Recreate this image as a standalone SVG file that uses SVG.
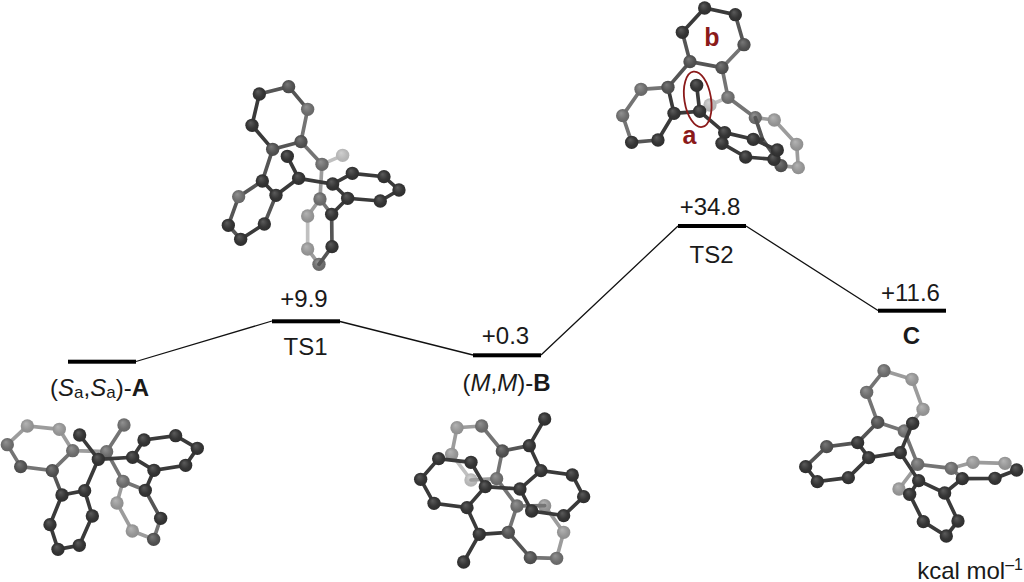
<svg xmlns="http://www.w3.org/2000/svg" width="1024" height="582" viewBox="0 0 1024 582">
<style>
text{font-family:"Liberation Sans",Arial,sans-serif;font-size:24px;fill:#1a1a1a;text-anchor:middle}
.bar{fill:#000}
.c{fill:none;stroke:#111;stroke-width:1.3}
.red{fill:#8b1a1a;font-weight:700;font-size:25px}
.mol path{fill:none;stroke-width:11;stroke-linecap:round}
.mol circle{r:20px}
path.k{stroke:#3a3a3a}path.n{stroke:#555}path.m{stroke:#747474}path.l{stroke:#9c9c9c}path.p{stroke:#c0c0c0}
circle.k{fill:url(#gk)}circle.n{fill:url(#gn)}circle.m{fill:url(#gm)}circle.l{fill:url(#gl)}circle.p{fill:url(#gp)}
</style>
<defs>
<radialGradient id="gk" cx=".5" cy=".5" r=".6" fx=".38" fy=".3"><stop offset="0" stop-color="#5c5c5c"/><stop offset=".55" stop-color="#363636"/><stop offset="1" stop-color="#2a2a2a"/></radialGradient>
<radialGradient id="gn" cx=".5" cy=".5" r=".6" fx=".38" fy=".3"><stop offset="0" stop-color="#787878"/><stop offset=".6" stop-color="#525252"/><stop offset="1" stop-color="#454545"/></radialGradient>
<radialGradient id="gm" cx=".5" cy=".5" r=".6" fx=".38" fy=".3"><stop offset="0" stop-color="#929292"/><stop offset=".6" stop-color="#6e6e6e"/><stop offset="1" stop-color="#626262"/></radialGradient>
<radialGradient id="gl" cx=".5" cy=".5" r=".6" fx=".38" fy=".3"><stop offset="0" stop-color="#b4b4b4"/><stop offset=".6" stop-color="#969696"/><stop offset="1" stop-color="#8a8a8a"/></radialGradient>
<radialGradient id="gp" cx=".5" cy=".5" r=".6" fx=".38" fy=".3"><stop offset="0" stop-color="#d0d0d0"/><stop offset=".6" stop-color="#b8b8b8"/><stop offset="1" stop-color="#aeaeae"/></radialGradient>
</defs>
<rect width="1024" height="582" fill="#fff"/>

<g id="connectors">
<path class="c" d="M136 361.5L272 321M340 321.5L473 355M541 355L678 226M746 226L878 310.5"/>
</g>

<g id="level-A"><rect class="bar" x="68" y="359.7" width="68" height="4"/><text x="99.5" y="396">(<tspan font-style="italic">S</tspan><tspan font-size="17" dy="2">a</tspan><tspan dy="-2">,</tspan><tspan font-style="italic">S</tspan><tspan font-size="17" dy="2">a</tspan><tspan dy="-2">)-</tspan><tspan font-weight="700">A</tspan></text></g>
<g id="level-TS1"><rect class="bar" x="272" y="319.3" width="68" height="4"/><text x="304" y="307">+9.9</text><text x="305.5" y="355">TS1</text></g>
<g id="level-B"><rect class="bar" x="473" y="353.3" width="68" height="4"/><text x="505.5" y="344">+0.3</text><text x="506.5" y="391">(<tspan font-style="italic">M</tspan>,<tspan font-style="italic">M</tspan>)-<tspan font-weight="700">B</tspan></text></g>
<g id="level-TS2"><rect class="bar" x="678" y="224" width="68" height="4"/><text x="710" y="215">+34.8</text><text x="711.5" y="263">TS2</text></g>
<g id="level-C"><rect class="bar" x="878" y="308.7" width="68" height="4"/><text x="910.5" y="300.5">+11.6</text><text x="911.5" y="344" font-weight="700">C</text></g>

<g id="mol-TS1" class="mol" transform="translate(200 70) scale(.3333)">
<path class="p" d="M323 438L323 537M366 283L428 256"/>
<path class="l" d="M360 387L323 438M366 283L360 387M323 537L357 583"/>
<circle class="p" cx="428" cy="256"/><circle class="l" cx="323" cy="438"/><circle class="l" cx="323" cy="537"/>
<path class="m" d="M303 215L366 283M360 387L395 433M323 118L303 215"/>
<circle class="m" cx="366" cy="283"/><circle class="m" cx="360" cy="387"/><circle class="m" cx="357" cy="583"/>
<path class="n" d="M178 72L266 50L323 118M303 215L218 238L187 333M228 376L193 462M122 508L85 466L116 380L187 333M395 433L396 530L357 583"/>
<circle class="m" cx="323" cy="118"/><circle class="n" cx="303" cy="215"/><circle class="m" cx="116" cy="380"/><circle class="k" cx="85" cy="466"/><circle class="n" cx="266" cy="50"/>
<path class="k" d="M218 238L156 166L178 72M187 333L228 376L296 325L262 259M296 325L398 342L457 310L552 320L597 360L541 393L443 385L398 342M443 385L395 433M193 462L122 508"/>
<circle class="k" cx="178" cy="72"/><circle class="k" cx="156" cy="166"/><circle class="n" cx="218" cy="238"/><circle class="k" cx="187" cy="333"/><circle class="k" cx="228" cy="376"/><circle class="k" cx="193" cy="462"/><circle class="k" cx="122" cy="508"/><circle class="k" cx="262" cy="259"/><circle class="k" cx="296" cy="325"/><circle class="k" cx="398" cy="342"/><circle class="k" cx="457" cy="310"/><circle class="k" cx="552" cy="320"/><circle class="k" cx="597" cy="360"/><circle class="k" cx="541" cy="393"/><circle class="k" cx="443" cy="385"/><circle class="k" cx="395" cy="433"/><circle class="k" cx="396" cy="530"/>
</g>

<g id="mol-TS2" class="mol" transform="translate(600 0) scale(.3333)">
<path class="p" d="M384 292L330 315"/><circle class="p" cx="330" cy="315"/>
<path class="l" d="M466 353L523 360L590 433L595 503L543 497"/>
<circle class="l" cx="523" cy="360"/><circle class="l" cx="590" cy="433"/><circle class="l" cx="595" cy="503"/>
<path class="m" d="M366 203L384 292L466 353M204 262L123 268L68 347L95 427M432 134L366 203"/>
<circle class="m" cx="384" cy="292"/><circle class="m" cx="466" cy="353"/><circle class="m" cx="123" cy="268"/><circle class="m" cx="68" cy="347"/>
<path class="n" d="M247 97L270 185L204 262M366 203L270 185M406 44L432 134M466 353L488 418L543 497M95 427L174 420"/>
<circle class="n" cx="432" cy="134"/><circle class="n" cx="366" cy="203"/><circle class="n" cx="543" cy="497"/>
<path class="k" d="M247 97L314 24L406 44M204 262L222 340L174 420M222 340L299 334L290 256M299 334L374 398L366 430L437 471L522 478L532 450L460 418L374 398M460 418L488 418"/>
<circle class="k" cx="314" cy="24"/><circle class="k" cx="406" cy="44"/><circle class="k" cx="247" cy="97"/><circle class="n" cx="270" cy="185"/><circle class="n" cx="204" cy="262"/><circle class="k" cx="222" cy="340"/><circle class="k" cx="174" cy="420"/><circle class="k" cx="95" cy="427"/><circle class="k" cx="290" cy="256"/><circle class="k" cx="299" cy="334"/><circle class="k" cx="374" cy="398"/><circle class="k" cx="366" cy="430"/><circle class="k" cx="437" cy="471"/><circle class="k" cx="522" cy="478"/><circle class="k" cx="532" cy="450"/><circle class="k" cx="460" cy="418"/>
</g>
<g id="annotations">
<ellipse cx="697.7" cy="99.3" rx="13.3" ry="28" transform="rotate(-9 697.7 99.3)" fill="none" stroke="#8b1a1a" stroke-width="1.8"/>
<text class="red" x="712" y="46">b</text><text class="red" x="689.5" y="144">a</text>
</g>

<g id="mol-A" class="mol" transform="translate(0 400) scale(.3333)">
<path class="l" d="M22 134L82 78L178 88L218 152M369 244L351 309L397 393L461 418M320 155L218 152"/>
<circle class="l" cx="82" cy="78"/><circle class="l" cx="178" cy="88"/><circle class="l" cx="351" cy="309"/><circle class="l" cx="397" cy="393"/>
<path class="m" d="M218 152L157 212L62 200L22 134M320 155L372 75M320 155L369 244M369 244L436 271M461 418L482 355"/>
<circle class="m" cx="22" cy="134"/><circle class="m" cx="218" cy="152"/><circle class="n" cx="62" cy="200"/><circle class="m" cx="372" cy="75"/><circle class="m" cx="320" cy="155"/><circle class="m" cx="369" cy="244"/><circle class="n" cx="461" cy="418"/>
<path class="n" d="M157 212L186 285M436 271L482 355"/>
<circle class="n" cx="157" cy="212"/>
<path class="k" d="M186 285L254 272L277 348L238 436L174 448L150 374L186 285M254 272L295 178L239 105M295 178L398 172L432 120L527 107L592 145L557 196L462 211L398 172M462 211L436 271"/>
<circle class="k" cx="186" cy="285"/><circle class="k" cx="254" cy="272"/><circle class="k" cx="277" cy="348"/><circle class="k" cx="238" cy="436"/><circle class="k" cx="174" cy="448"/><circle class="k" cx="150" cy="374"/><circle class="k" cx="295" cy="178"/><circle class="k" cx="239" cy="105"/><circle class="k" cx="398" cy="172"/><circle class="k" cx="432" cy="120"/><circle class="k" cx="527" cy="107"/><circle class="k" cx="592" cy="145"/><circle class="k" cx="557" cy="196"/><circle class="k" cx="462" cy="211"/><circle class="k" cx="436" cy="271"/><circle class="k" cx="482" cy="355"/>
</g>

<g id="mol-B" class="mol" transform="translate(400 400) scale(.3333)">
<path class="p" d="M155 163L213 240"/><circle class="p" cx="213" cy="240"/>
<path class="l" d="M245 78L171 83L155 163M213 240L290 236M434 317L491 397L470 475"/>
<circle class="l" cx="171" cy="83"/><circle class="l" cx="155" cy="163"/><circle class="l" cx="434" cy="317"/><circle class="l" cx="491" cy="397"/>
<path class="m" d="M245 78L307 153L290 236L351 318L325 397M351 318L434 317M470 475L391 473"/>
<circle class="m" cx="245" cy="78"/><circle class="m" cx="290" cy="236"/><circle class="m" cx="351" cy="318"/><circle class="m" cx="470" cy="475"/>
<path class="n" d="M307 153L388 137M325 397L391 473"/>
<circle class="n" cx="307" cy="153"/><circle class="n" cx="391" cy="473"/>
<path class="k" d="M434 57L388 137L423 212L517 225L551 290L491 347L395 333L360 267L423 212M360 267L256 260L213 187L116 176L62 238L102 310L201 323L256 260M201 323L238 403L191 486M238 403L325 397"/>
<circle class="k" cx="434" cy="57"/><circle class="k" cx="388" cy="137"/><circle class="k" cx="423" cy="212"/><circle class="k" cx="517" cy="225"/><circle class="k" cx="551" cy="290"/><circle class="k" cx="491" cy="347"/><circle class="k" cx="395" cy="333"/><circle class="k" cx="360" cy="267"/><circle class="k" cx="256" cy="260"/><circle class="k" cx="213" cy="187"/><circle class="k" cx="116" cy="176"/><circle class="k" cx="62" cy="238"/><circle class="k" cx="102" cy="310"/><circle class="k" cx="201" cy="323"/><circle class="k" cx="238" cy="403"/><circle class="k" cx="191" cy="486"/><circle class="n" cx="325" cy="397"/>
</g>

<g id="mol-C" class="mol" transform="translate(790 350) scale(.3333)">
<path class="l" d="M282 62L366 88L399 178L343 243M383 343L327 417M484 355L549 337L645 340"/>
<circle class="l" cx="366" cy="88"/><circle class="l" cx="399" cy="178"/><circle class="l" cx="327" cy="417"/><circle class="l" cx="549" cy="337"/><circle class="l" cx="645" cy="340"/>
<path class="m" d="M230 127L282 62M343 243L383 343L484 355L517 386M263 217L343 243M230 127L263 217"/>
<circle class="m" cx="282" cy="62"/><circle class="m" cx="230" cy="127"/><circle class="m" cx="343" cy="243"/><circle class="m" cx="383" cy="343"/><circle class="m" cx="484" cy="355"/>
<path class="n" d="M263 217L203 278L110 290L47 350"/>
<circle class="n" cx="263" cy="217"/><circle class="n" cx="110" cy="290"/>
<path class="k" d="M203 278L236 323L175 383L82 395L47 350M236 323L331 308L368 220M331 308L386 392L464 429L504 513L469 558L400 515L359 433L386 392M464 429L517 386L615 385L680 360"/>
<circle class="k" cx="203" cy="278"/><circle class="k" cx="236" cy="323"/><circle class="k" cx="175" cy="383"/><circle class="k" cx="82" cy="395"/><circle class="k" cx="47" cy="350"/><circle class="k" cx="331" cy="308"/><circle class="k" cx="368" cy="220"/><circle class="k" cx="386" cy="392"/><circle class="k" cx="464" cy="429"/><circle class="k" cx="504" cy="513"/><circle class="k" cx="469" cy="558"/><circle class="k" cx="400" cy="515"/><circle class="k" cx="359" cy="433"/><circle class="k" cx="517" cy="386"/><circle class="k" cx="615" cy="385"/><circle class="k" cx="680" cy="360"/>
</g>

<g id="unit"><text x="1023" y="579" style="text-anchor:end">kcal mol<tspan font-size="16" dy="-9">–1</tspan></text></g>
</svg>
